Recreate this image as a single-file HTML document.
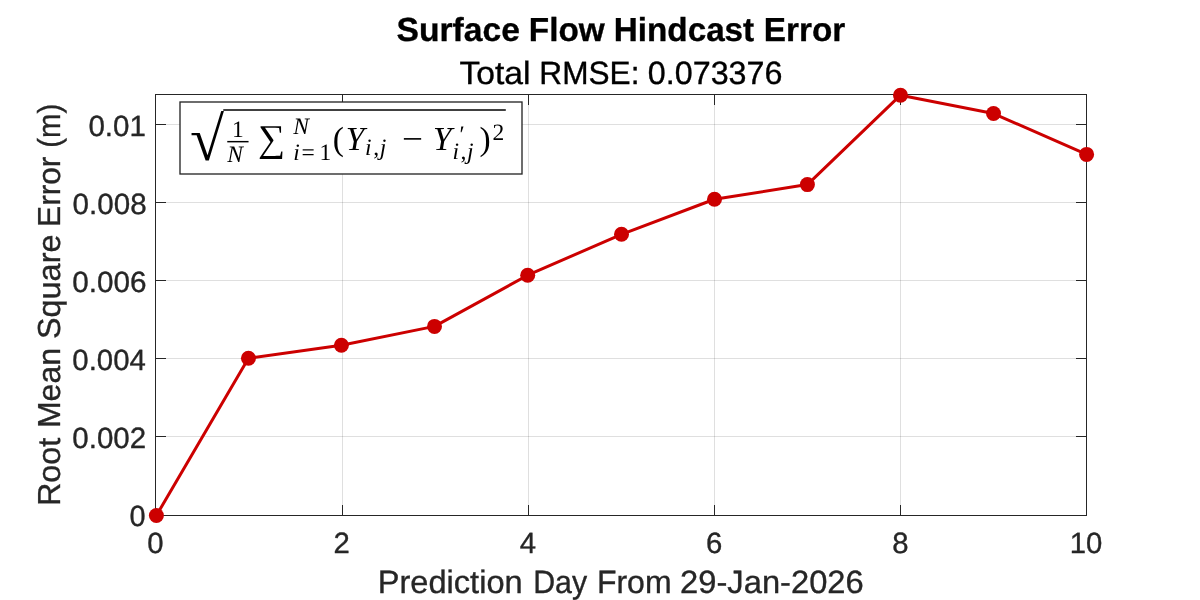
<!DOCTYPE html>
<html>
<head>
<meta charset="utf-8">
<style>
html,body{margin:0;padding:0;background:#fff;}
body{width:1200px;height:600px;overflow:hidden;position:relative;font-family:"Liberation Sans",sans-serif;}
svg{position:absolute;left:0;top:0;will-change:transform;}
text{font-family:"Liberation Sans",sans-serif;fill:#262626;stroke:#262626;stroke-width:0.35px;text-rendering:geometricPrecision;}
.t{fill:#000;stroke:#000;font-weight:bold;}
.ser{font-family:"Liberation Serif","DejaVu Serif",serif;fill:#000;stroke:none;}
</style>
</head>
<body>
<svg width="1200" height="600" viewBox="0 0 1200 600">
<rect x="0" y="0" width="1200" height="600" fill="#ffffff"/>
<!-- grid -->
<g stroke="#262626" stroke-opacity="0.15" stroke-width="1" fill="none">
<line x1="342.5" y1="95" x2="342.5" y2="515"/>
<line x1="528.5" y1="95" x2="528.5" y2="515"/>
<line x1="714.5" y1="95" x2="714.5" y2="515"/>
<line x1="900.5" y1="95" x2="900.5" y2="515"/>
<line x1="156" y1="436.5" x2="1086" y2="436.5"/>
<line x1="156" y1="358.5" x2="1086" y2="358.5"/>
<line x1="156" y1="280.5" x2="1086" y2="280.5"/>
<line x1="156" y1="202.5" x2="1086" y2="202.5"/>
<line x1="156" y1="124.5" x2="1086" y2="124.5"/>
</g>
<!-- axes box and ticks -->
<g stroke="#262626" stroke-width="1" fill="none">
<rect x="155.5" y="94.5" width="931" height="421"/>
<path d="M342.5 515v-10M342.5 95v10M528.5 515v-10M528.5 95v10M714.5 515v-10M714.5 95v10M900.5 515v-10M900.5 95v10"/>
<path d="M156 436.5h10M1086 436.5h-10M156 358.5h10M1086 358.5h-10M156 280.5h10M1086 280.5h-10M156 202.5h10M1086 202.5h-10M156 124.5h10M1086 124.5h-10"/>
</g>
<!-- series -->
<polyline fill="none" stroke="#cc0000" stroke-width="3" stroke-linejoin="round" points="156.4,515.5 248.45,358.25 341.4,345.2 434.5,326.4 527.7,275.2 621.5,234.3 714.5,199.25 807.4,184.6 900.5,95.2 993.5,113.55 1086.6,154.4"/>
<g fill="#cc0000"><circle cx="156.4" cy="515.5" r="7.5"/><circle cx="248.45" cy="358.25" r="7.5"/><circle cx="341.4" cy="345.2" r="7.5"/><circle cx="434.5" cy="326.4" r="7.5"/><circle cx="527.7" cy="275.2" r="7.5"/><circle cx="621.5" cy="234.3" r="7.5"/><circle cx="714.5" cy="199.25" r="7.5"/><circle cx="807.4" cy="184.6" r="7.5"/><circle cx="900.5" cy="95.2" r="7.5"/><circle cx="993.5" cy="113.55" r="7.5"/><circle cx="1086.6" cy="154.4" r="7.5"/></g>
<!-- titles -->
<!-- TEXT START -->
<g id="title"><text class="t" x="396.64" y="41" font-size="33.3" textLength="123.22" lengthAdjust="spacingAndGlyphs">Surface</text><text class="t" x="528.86" y="41" font-size="33.3" textLength="75.91" lengthAdjust="spacingAndGlyphs">Flow</text><text class="t" x="613.87" y="41" font-size="33.3" textLength="140.29" lengthAdjust="spacingAndGlyphs">Hindcast</text><text class="t" x="763.87" y="41" font-size="33.3" textLength="81.43" lengthAdjust="spacingAndGlyphs">Error</text></g>
<g id="sub" style="fill:#000;stroke:#000"><text style="fill:#000;stroke:#000" x="459.50" y="83.6" font-size="32.2" textLength="71.03" lengthAdjust="spacingAndGlyphs">Total</text><text style="fill:#000;stroke:#000" x="539.35" y="83.6" font-size="32.2" textLength="100.08" lengthAdjust="spacingAndGlyphs">RMSE:</text><text style="fill:#000;stroke:#000" x="647.81" y="83.6" font-size="32.2" textLength="134.68" lengthAdjust="spacingAndGlyphs">0.073376</text></g>
<g id="xl"><text x="377.77" y="592.5" font-size="32.3" textLength="144.89" lengthAdjust="spacingAndGlyphs">Prediction</text><text x="533.14" y="592.5" font-size="32.3" textLength="53.92" lengthAdjust="spacingAndGlyphs">Day</text><text x="596.91" y="592.5" font-size="32.3" textLength="74.69" lengthAdjust="spacingAndGlyphs">From</text><text x="680.10" y="592.5" font-size="32.3" textLength="183.60" lengthAdjust="spacingAndGlyphs">29-Jan-2026</text></g>
<g id="yl" transform="translate(60.4,600) rotate(-90)"><text x="93.98" y="0" font-size="31.8" textLength="68.28" lengthAdjust="spacingAndGlyphs">Root</text><text x="172.01" y="0" font-size="31.8" textLength="79.93" lengthAdjust="spacingAndGlyphs">Mean</text><text x="261.04" y="0" font-size="31.8" textLength="104.39" lengthAdjust="spacingAndGlyphs">Square</text><text x="373.03" y="0" font-size="31.8" textLength="70.35" lengthAdjust="spacingAndGlyphs">Error</text><text x="452.32" y="0" font-size="31.8" textLength="44.08" lengthAdjust="spacingAndGlyphs">(m)</text></g>
<!-- TEXT END -->
<!-- x labels -->
<g font-size="29.3" text-anchor="middle">
<text x="155.5" y="553">0</text><text x="341.7" y="553">2</text><text x="527.9" y="553">4</text>
<text x="714.1" y="553">6</text><text x="900.3" y="553">8</text><text x="1086.1" y="553">10</text>
</g>
<!-- YT START -->
<g font-size="29.3"><text x="129.38" y="526" textLength="16.06" lengthAdjust="spacingAndGlyphs">0</text><text x="72.35" y="448" textLength="73.84" lengthAdjust="spacingAndGlyphs">0.002</text><text x="72.36" y="370" textLength="73.44" lengthAdjust="spacingAndGlyphs">0.004</text><text x="72.35" y="292" textLength="74.25" lengthAdjust="spacingAndGlyphs">0.006</text><text x="72.60" y="214" textLength="74.00" lengthAdjust="spacingAndGlyphs">0.008</text><text x="88.45" y="136" textLength="57.5" lengthAdjust="spacingAndGlyphs">0.01</text></g>
<!-- YT END -->
<!-- legend box -->
<rect x="180" y="102" width="342" height="72" fill="#fff" stroke="#262626" stroke-width="1.34"/>
<!-- FORMULA START -->
<g id="formula" fill="#000" stroke="#000" stroke-width="0.05" transform="translate(-307.648,-311.022) scale(3.3500)">
<path fill="none" stroke-width="0.44" stroke-linecap="butt" stroke-linejoin="miter" stroke="#000" stroke-miterlimit="10" d="M -0.00178056 0.000960731 L 84.440641 0.000960731 " transform="matrix(0.998785, 0, 0, -0.998785, 158.482247, 125.704085)"/>
<path fill="none" stroke-width="0.44" stroke-linecap="butt" stroke-linejoin="miter" stroke="#000" stroke-miterlimit="10" d="M -0.0000142707 0.00171544 L 6.363184 0.00171544 " transform="matrix(0.998785, 0, 0, -0.998785, 159.675796, 135.13062)"/>
</g>
<g id="formula-text">
<text class="ser" x="190" y="160" font-size="62" textLength="34" lengthAdjust="spacingAndGlyphs">√</text>
<text class="ser" x="232" y="136.9" font-size="23.5">1</text>
<text class="ser" x="227.3" y="161.5" font-size="23.5" font-style="italic">N</text>
<text class="ser" x="258" y="151" font-size="38">∑</text>
<text class="ser" x="293.3" y="134" font-size="23.5" font-style="italic">N</text>
<text class="ser" x="293.3" y="159.5" font-size="23.5"><tspan font-style="italic">i</tspan><tspan x="301.4">=</tspan><tspan x="319.5">1</tspan></text>
<text class="ser" x="332.8" y="150" font-size="33.5">(</text>
<text class="ser" x="345.8" y="150" font-size="33.5" font-style="italic">Y</text>
<text class="ser" x="365.1" y="155" font-size="23.5"><tspan font-style="italic">i</tspan><tspan x="373.2">,</tspan><tspan x="379.7" font-style="italic">j</tspan></text>
<text class="ser" x="402" y="150" font-size="33.5" textLength="21" lengthAdjust="spacingAndGlyphs">−</text>
<text class="ser" x="433" y="150" font-size="33.5" font-style="italic">Y</text>
<text class="ser" x="459.5" y="142" font-size="23.5">′</text>
<text class="ser" x="452.4" y="159.2" font-size="23.5"><tspan font-style="italic">i</tspan><tspan x="460.5">,</tspan><tspan x="467" font-style="italic">j</tspan></text>
<text class="ser" x="479.5" y="150" font-size="33.5">)</text>
<text class="ser" x="492.5" y="140.4" font-size="23.5">2</text>
</g>
<!-- FORMULA END -->
</svg>
</body>
</html>
